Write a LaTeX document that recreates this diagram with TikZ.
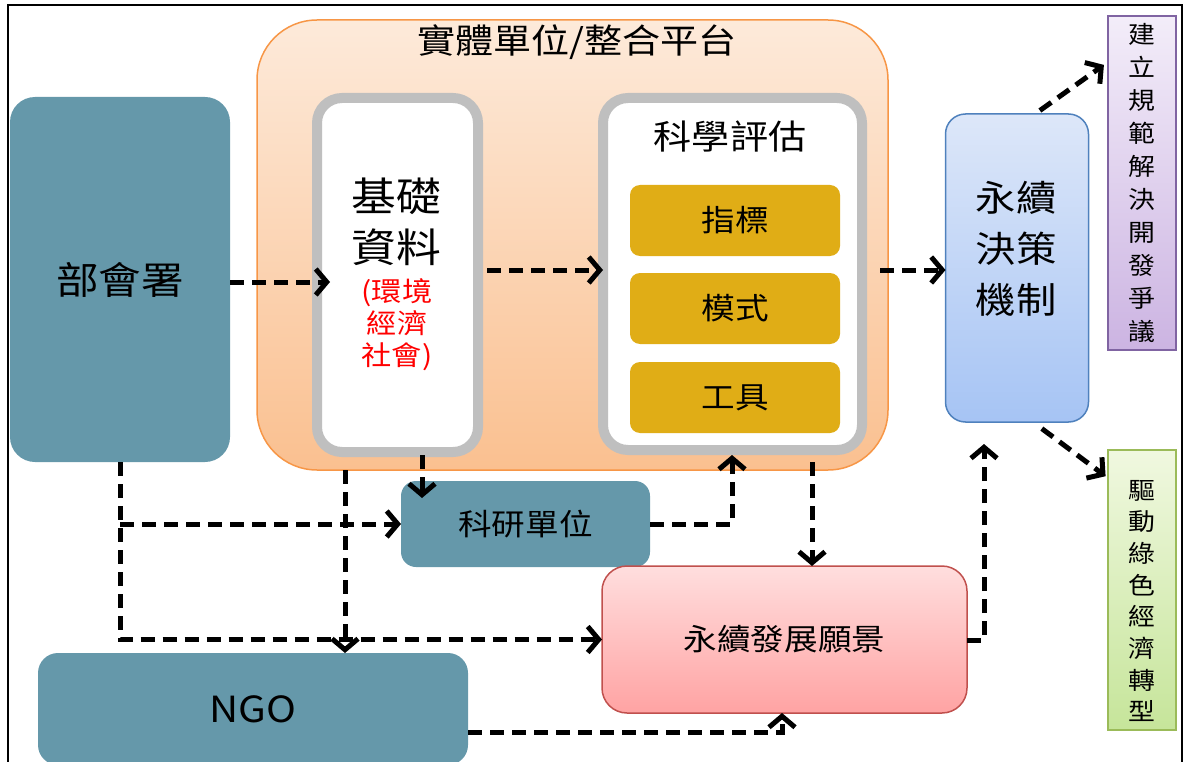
\documentclass[tikz,border=0pt]{standalone}
\usepackage{fontspec}
\setmainfont[FakeStretch=1.12]{Noto Sans CJK TC}
\usetikzlibrary{arrows.meta}
\definecolor{teal1}{HTML}{6598AA}
\definecolor{orangeT}{HTML}{FDEADA}
\definecolor{orangeB}{HTML}{FAC090}
\definecolor{orangeb}{HTML}{F79646}
\definecolor{grayb}{HTML}{BFBFBF}
\definecolor{gold}{HTML}{E0AD16}
\definecolor{blueT}{HTML}{DDE7F9}
\definecolor{blueB}{HTML}{A6C4F4}
\definecolor{blueb}{HTML}{4F81BD}
\definecolor{pinkT}{HTML}{FFDEDE}
\definecolor{pinkB}{HTML}{FFA3A3}
\definecolor{pinkb}{HTML}{C0504D}
\definecolor{purpleT}{HTML}{F3EDF9}
\definecolor{purpleB}{HTML}{CCB4E2}
\definecolor{purpleb}{HTML}{8064A2}
\definecolor{greenT}{HTML}{F0F8E0}
\definecolor{greenB}{HTML}{C6E59A}
\definecolor{greenb}{HTML}{9BBB59}
\definecolor{red1}{HTML}{FF0000}
\newcommand{\fsz}[2]{\fontsize{#1}{#2}\selectfont}
\tikzset{
  base/.style={inner sep=0pt, outer sep=0pt},
  tealbox/.style={base, fill=teal1},
  grayframe/.style={base, draw=grayb, line width=10pt, fill=white, rounded corners=25pt},
  goldbox/.style={base, fill=gold, rounded corners=10pt, minimum width=210pt, minimum height=71pt, font=\fsz{30}{36}},
  arr/.style={line width=5pt, dash pattern=on 14pt off 8pt,
    -{Straight Barb[length=11pt,width=26pt,line width=5pt]}},
}
\begin{document}
\begin{tikzpicture}[x=1pt,y=-1pt]
\useasboundingbox (0,0) rectangle (1186,762);
\draw[line width=1.5pt] (8,775) -- (8,5) -- (1182,5) -- (1182,775);

% left teal
\node[tealbox, rounded corners=25pt, minimum width=220pt, minimum height=365pt, font=\fsz{38}{46}] (bu) at (120,279.5) {部會署};

% orange platform
\node[base, draw=orangeb, line width=1.5pt, top color=orangeT, bottom color=orangeB, rounded corners=60pt, minimum width=631pt, minimum height=450pt] (org) at (572.5,245) {};
\node[base, font=\fsz{34}{40}] (orgt) at (577,42) {實體單位/整合平台};

% basic data
\node[grayframe, minimum width=161pt, minimum height=354pt] (jc) at (397.5,275) {};
\node[base, align=center, font=\fsz{40}{51}] (jct) at (396,222) {基礎\\資料};
\node[base, align=center, text=red1, font=\fsz{27}{32}] (jcr) at (397,325) {(環境\\經濟\\社會)};

% science assessment
\node[grayframe, minimum width=259pt, minimum height=352pt] (kx) at (732.5,274) {};
\node[base, font=\fsz{34}{40}] (kxt) at (730,137) {科學評估};
\node[goldbox] (g1) at (735,220.5) {指標};
\node[goldbox] (g2) at (735,308.5) {模式};
\node[goldbox] (g3) at (735,397.5) {工具};

% decision mechanism
\node[base, draw=blueb, line width=1.5pt, top color=blueT, bottom color=blueB, rounded corners=20pt, minimum width=143pt, minimum height=308pt] (sj) at (1017,268) {};
\node[base, align=center, font=\fsz{36}{51}] (sjt) at (1016,249) {永續\\決策\\機制};

% right vertical boxes
\node[base, draw=purpleb, line width=1.2pt, top color=purpleT, bottom color=purpleB, minimum width=68pt, minimum height=334pt, align=center, font=\fsz{24}{33}] (pu) at (1142,183) {建\\立\\規\\範\\解\\決\\開\\發\\爭\\議};
\node[base, draw=greenb, line width=1.2pt, top color=greenT, bottom color=greenB, minimum width=68pt, minimum height=280pt] (gr) at (1142,590) {};
\node[base, align=center, font=\fsz{24}{31.7}] (grt) at (1142,601) {驅\\動\\綠\\色\\經\\濟\\轉\\型};

% research unit
\node[tealbox, rounded corners=15pt, minimum width=249pt, minimum height=86pt, font=\fsz{30}{36}] (ky) at (525.5,524) {科研單位};

% vision
\node[base, draw=pinkb, line width=1.5pt, top color=pinkT, bottom color=pinkB, rounded corners=25pt, minimum width=365pt, minimum height=147pt, font=\fsz{30}{36}] (yj) at (784.5,639.5) {永續發展願景};

% NGO
\node[tealbox, rounded corners=20pt, minimum width=430pt, minimum height=112pt, font=\fsz{36}{42}] (ngo) at (253,709) {NGO};

% connectors
\draw[arr, shorten >=-13pt] (bu.east |- 0,282) -- (jc.west |- 0,282);
\draw[arr, shorten <=9pt] (jc.east |- 0,270) -- (kx.west |- 0,270);
\draw[arr, shorten <=18pt] (kx.east |- 0,270) -- (sj.west |- 0,270);
\draw[arr, shorten <=6pt, shorten >=5pt] (sj.north -| 1035,0) -- (pu.west |- 0,62);
\draw[arr, shorten <=11pt, shorten >=3pt] (sj.south -| 1033,0) -- (gr.west |- 0,478);
\draw[arr, shorten <=3pt, shorten >=-17pt] (jc.south -| 422,0) -- (ky.north -| 422,0);
\draw[arr] (bu.south) |- (yj.west);
\draw[arr] (bu.south |- ky.west) -- (ky.west);
\draw[arr] (org.south -| 345,0) -- (ngo.north -| 345,0);
\draw[arr, shorten >=5pt] (ky.east) -| (kx.south -| 732,0);
\draw[arr, shorten <=12pt] (kx.south -| 812,0) -- (yj.north -| 812,0);
\draw[arr, shorten >=22pt] (yj.east |- 0,640) -| (sj.south -| 984,0);
\draw[arr] (ngo.east |- 0,732) -| (yj.south -| 782,0);
\end{tikzpicture}
\end{document}
